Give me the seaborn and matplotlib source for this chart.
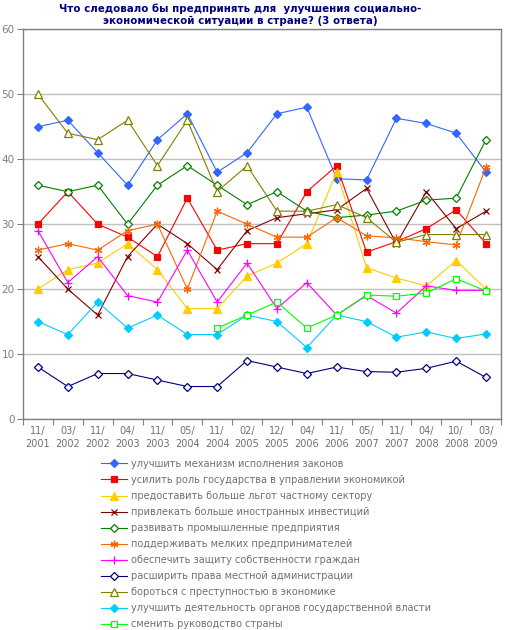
import numpy as np
import pandas as pd
import matplotlib
matplotlib.use("Agg")
import matplotlib.pyplot as plt
import seaborn as sns

# survey waves
periods = ['11/\n2001', '03/\n2002', '11/\n2002', '04/\n2003', '11/\n2003', '05/\n2004',
           '11/\n2004', '02/\n2005', '12/\n2005', '04/\n2006', '11/\n2006', '05/\n2007',
           '11/\n2007', '04/\n2008', '10/\n2008', '03/\n2009']

laws = [45, 46, 41, 36, 43, 47, 38, 41, 47, 48, 37, 36.8, 46.3, 45.5, 44, 38]
state_role = [30, 35, 30, 28, 25, 34, 26, 27, 27, 35, 39, 25.7, 27.3, 29.3, 32.2, 27]
private_benefits = [20, 23, 24, 27, 23, 17, 17, 22, 24, 27, 38, 23.3, 21.7, 20.5, 24.4, 20]
foreign_invest = [25, 20, 16, 25, 30, 27, 23, 29, 31, 31.6, 32.2, 35.5, 27, 35, 29.3, 32]
industry = [36, 35, 36, 30, 36, 39, 36, 33, 35, 32, 31, 31.4, 32, 33.7, 34, 43]
small_business = [26, 27, 26, 29, 30, 20, 32, 30, 28, 28, 31, 28.2, 27.9, 27.3, 26.8, 38.8]
property_rights = [29, 21, 25, 19, 18, 26, 18, 24, 17, 21, 16, 19, 16.3, 20.5, 19.8, 19.8]
local_admin = [8, 5, 7, 7, 6, 5, 5, 9, 8, 7, 8, 7.3, 7.2, 7.8, 8.9, 6.4]
crime = [50, 44, 43, 46, 39, 46, 35, 39, 32, 32, 33, 31, 27.2, 28.4, 28.4, 28.4]
government = [15, 13, 18, 14, 16, 13, 13, 16, 15, 11, 16, 15, 12.6, 13.4, 12.4, 13.1]
leadership = [np.nan] * 6 + [14, 16, 18, 14, 16, 19.1, 18.9, 19.4, 21.6, 19.7]

labels = [
    'улучшить механизм исполнения законов',
    'усилить роль государства в управлении экономикой',
    'предоставить больше льгот частному сектору',
    'привлекать больше иностранных инвестиций',
    'развивать промышленные предприятия',
    'поддерживать мелких предпринимателей',
    'обеспечить защиту собственности граждан',
    'расширить права местной администрации',
    'бороться с преступностью в экономике',
    'улучшить деятельность органов государственной власти',
    'сменить руководство страны',
]
series = [laws, state_role, private_benefits, foreign_invest, industry, small_business,
          property_rights, local_admin, crime, government, leadership]

# colour, marker, filled?, marker size
styles = [
    ('#3366FF', 'D', True, 4),
    ('#FF0000', 's', True, 5),
    ('#FFCC00', '^', True, 5.5),
    ('#800000', 'x', True, 4.5),
    ('#008000', 'D', False, 4),
    ('#FF6600', (6, 2, 0), True, 5.5),
    ('#FF00FF', '+', True, 5.5),
    ('#000080', 'D', False, 4),
    ('#808000', '^', False, 6),
    ('#00CCFF', 'D', True, 4),
    ('#00FF00', 's', False, 5),
]

plt.rcParams['font.family'] = ['DejaVu Sans']

fig = plt.figure(figsize=(5.05, 6.3), dpi=100)
ax = fig.add_axes([23 / 505, 1 - 419 / 630, 478 / 505, 389.7 / 630])

x = np.arange(len(periods))
for vals, lab, (c, m, filled, ms) in zip(series, labels, styles):
    d = pd.DataFrame({'x': x, 'y': vals}).dropna()
    sns.lineplot(data=d, x='x', y='y', ax=ax, color=c, marker=m, markersize=ms,
                 markerfacecolor=c if filled else 'white', markeredgecolor=c,
                 markeredgewidth=0.9, linewidth=0.8, label=lab, errorbar=None)

handles, labs = ax.get_legend_handles_labels()
ax.get_legend().remove()

ax.set_xlim(-0.5, len(periods) - 0.5)
ax.set_ylim(0, 60)
ax.set_yticks(range(0, 61, 10))
ax.set_xticks(x)
ax.set_xticklabels(periods, fontsize=7, color='#707070', linespacing=1.35)
ax.set_xticks(np.arange(-0.5, len(periods), 1), minor=True)
ax.tick_params(axis='x', which='major', length=0, pad=5)
ax.tick_params(axis='x', which='minor', length=4, width=0.8, color='#808080', direction='out')
ax.tick_params(axis='y', labelsize=7.5, labelcolor='#808080', length=4, width=0.8,
               color='#808080', direction='out', pad=2)
ax.set_xlabel('')
ax.set_ylabel('')
ax.grid(axis='y', color='#C0C0C0', linewidth=1.0)
ax.set_axisbelow(True)
for sp in ax.spines.values():
    sp.set_color('#808080')
    sp.set_linewidth(1.0)

fig.text(0.475, 1 - 3 / 630, 'Что следовало бы предпринять для  улучшения социально-\n'
         'экономической ситуации в стране? (3 ответа)',
         ha='center', va='top', fontsize=7.4, fontweight='bold', color='#000080',
         linespacing=1.3)

fig.legend(handles, labs, loc='upper left', bbox_to_anchor=(96 / 505, 1 - 454 / 630),
           frameon=False, fontsize=7, handlelength=2.7, handletextpad=0.4,
           labelspacing=0.62, borderpad=0, labelcolor='#707070')

fig.savefig('out.png', dpi=100)
